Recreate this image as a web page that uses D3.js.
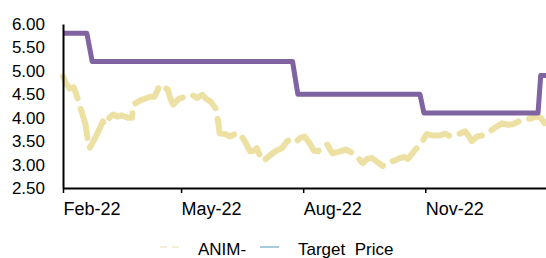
<!DOCTYPE html>
<html>
<head>
<meta charset="utf-8">
<script src="https://cdn.jsdelivr.net/npm/d3@7"></script>
<style>
  html, body { margin: 0; padding: 0; background: #fff; }
  svg { display: block; }
  text { font-family: "Liberation Sans", Arial, sans-serif; fill: #000; }
</style>
</head>
<body>
<svg id="chart" width="546" height="258"></svg>
<script>
// ---- Data ----
const priceDates = ["2022-02-01","2022-02-03","2022-02-06","2022-02-09","2022-02-11","2022-02-15","2022-02-18","2022-02-20","2022-02-21","2022-02-24","2022-02-27","2022-03-03","2022-03-05","2022-03-08","2022-03-11","2022-03-14","2022-03-17","2022-03-22","2022-03-25","2022-03-26","2022-03-30","2022-04-03","2022-04-08","2022-04-11","2022-04-15","2022-04-18","2022-04-21","2022-04-23","2022-04-25","2022-04-29","2022-05-04","2022-05-09","2022-05-13","2022-05-17","2022-05-20","2022-05-23","2022-05-27","2022-05-29","2022-05-30","2022-06-03","2022-06-07","2022-06-11","2022-06-14","2022-06-18","2022-06-22","2022-06-25","2022-06-27","2022-06-29","2022-07-02","2022-07-07","2022-07-12","2022-07-16","2022-07-20","2022-07-24","2022-07-27","2022-07-30","2022-08-02","2022-08-06","2022-08-09","2022-08-12","2022-08-15","2022-08-19","2022-08-23","2022-08-29","2022-09-02","2022-09-08","2022-09-11","2022-09-15","2022-09-18","2022-09-22","2022-09-26","2022-09-30","2022-10-04","2022-10-07","2022-10-10","2022-10-13","2022-10-16","2022-10-19","2022-10-24","2022-10-30","2022-11-02","2022-11-07","2022-11-12","2022-11-16","2022-11-20","2022-11-26","2022-12-01","2022-12-04","2022-12-06","2022-12-10","2022-12-14","2022-12-18","2022-12-23","2022-12-29","2023-01-02","2023-01-06","2023-01-09","2023-01-13","2023-01-19","2023-01-24","2023-01-27","2023-01-30"];
const priceValues = [4.88,4.75,4.62,4.65,4.50,4.13,3.85,3.45,3.35,3.50,3.67,3.92,3.85,4.00,4.07,4.02,4.05,4.00,4.00,4.28,4.35,4.40,4.45,4.45,4.70,4.66,4.60,4.40,4.28,4.40,4.45,4.49,4.42,4.49,4.40,4.35,4.20,3.90,3.67,3.65,3.60,3.66,3.67,3.50,3.28,3.30,3.35,3.22,3.07,3.20,3.30,3.35,3.50,3.56,3.50,3.57,3.60,3.45,3.30,3.28,3.36,3.43,3.24,3.28,3.32,3.24,3.15,3.03,3.12,3.14,3.05,2.97,3.05,3.07,3.10,3.14,3.16,3.12,3.30,3.50,3.65,3.62,3.62,3.66,3.60,3.65,3.71,3.60,3.50,3.60,3.62,3.67,3.78,3.88,3.85,3.86,3.90,3.96,3.98,4.03,4.00,3.88];

const targetDates = ["2022-02-01","2022-02-19","2022-02-23","2022-07-24","2022-07-28","2022-10-28","2022-10-31","2023-01-25","2023-01-27","2023-01-31"];
const targetValues = [5.80,5.80,5.20,5.20,4.50,4.50,4.10,4.10,4.90,4.90];

const yTicks = [2.5,3.0,3.5,4.0,4.5,5.0,5.5,6.0];
const xTickDates = ["2022-02-01","2022-05-01","2022-08-01","2022-11-01"];
const seriesNames = ["ANIM-","Target Price"];

// ---- Chart ----
const parse = d3.utcParse("%Y-%m-%d");
const svg = d3.select("#chart");

const x = d3.scaleUtc()
  .domain([parse("2022-02-01"), parse("2023-01-31")])
  .range([63, 546]);
const y = d3.scaleLinear().domain([2.5, 6.0]).range([188, 24]);

const price = priceDates.map((d, i) => ({ date: parse(d), v: priceValues[i] }));
const target = targetDates.map((d, i) => ({ date: parse(d), v: targetValues[i] }));

const line = d3.line().x(d => x(d.date)).y(d => y(d.v));

// price line (dashed, pale yellow)
svg.append("path")
  .datum(price)
  .attr("d", line)
  .attr("fill", "none")
  .attr("stroke", "#ece1a3")
  .attr("stroke-width", 6)
  .attr("stroke-linecap", "round")
  .attr("stroke-linejoin", "round")
  .attr("stroke-dasharray", "30,11");

// target price line
svg.append("path")
  .datum(target)
  .attr("d", line)
  .attr("fill", "none")
  .attr("stroke", "#8064a2")
  .attr("stroke-width", 5)
  .attr("stroke-linejoin", "round");

// Y axis
const yAxis = d3.axisLeft(y).tickValues(yTicks).tickFormat(d3.format(".2f")).tickSize(0).tickPadding(18);
const gy = svg.append("g").attr("transform", "translate(63,0)").call(yAxis);
gy.select(".domain").attr("stroke", "#000").attr("stroke-width", 2);
gy.selectAll("text").attr("font-size", 17).attr("font-family", "Liberation Sans, Arial, sans-serif").attr("fill", "#000");

// X axis
const xAxis = d3.axisBottom(x).tickValues(xTickDates.map(parse)).tickFormat(d3.utcFormat("%b-%y")).tickSize(5).tickSizeOuter(0);
const gx = svg.append("g").attr("transform", "translate(0,188)").call(xAxis);
gx.select(".domain").attr("stroke", "#000").attr("stroke-width", 2);
gx.selectAll(".tick line").attr("stroke", "#000").attr("stroke-width", 1.5);
gx.selectAll("text")
  .attr("font-size", 18)
  .attr("font-family", "Liberation Sans, Arial, sans-serif")
  .attr("fill", "#000")
  .attr("text-anchor", "start")
  .attr("dy", null)
  .attr("y", 27);

// Legend
const lg = svg.append("g");
lg.append("line").attr("x1", 160).attr("x2", 180).attr("y1", 247).attr("y2", 247)
  .attr("stroke", "#f3eed6").attr("stroke-width", 2).attr("stroke-dasharray", "7,5");
lg.append("text").attr("x", 198).attr("y", 255).attr("font-size", 17).text(seriesNames[0]);
lg.append("line").attr("x1", 260).attr("x2", 279).attr("y1", 247).attr("y2", 247)
  .attr("stroke", "#a8ccd7").attr("stroke-width", 2);
lg.append("text").attr("x", 298).attr("y", 255).attr("font-size", 17)
  .style("white-space", "pre").text(seriesNames[1].replace(" ", "  "));
</script>
</body>
</html>
